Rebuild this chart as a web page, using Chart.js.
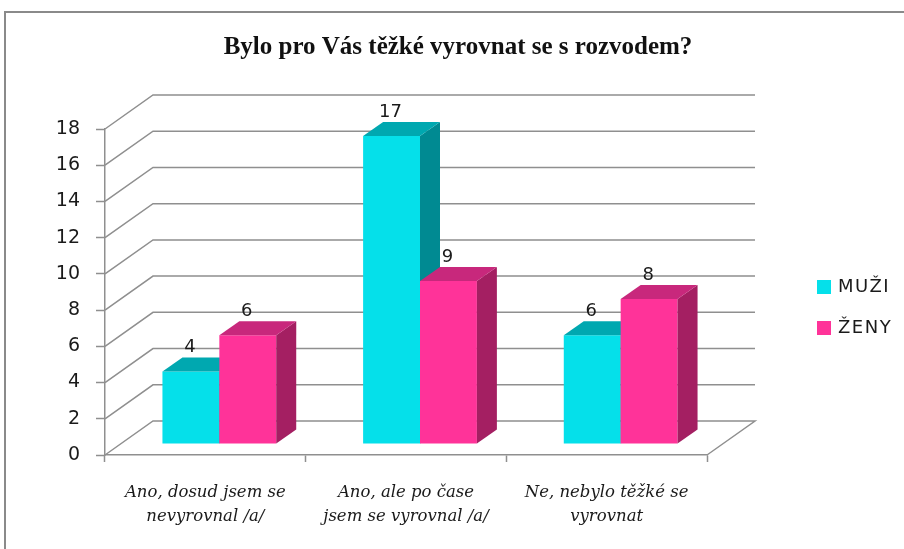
<!DOCTYPE html>
<html>
<head>
<meta charset="utf-8">
<script src="https://cdn.jsdelivr.net/npm/chart.js@4.4.0/dist/chart.umd.min.js"></script>
<style>
  body { margin: 0; background: #fff; }
</style>
</head>
<body>
<canvas id="myChart" width="904" height="549"></canvas>
<script>
const categories = [
    ['Ano, dosud jsem se', 'nevyrovnal /a/'],
    ['Ano, ale po čase', 'jsem se vyrovnal /a/'],
    ['Ne, nebylo těžké se', 'vyrovnat'],
];
const muzi = [4, 17, 6];
const zeny = [6, 9, 8];
const yTicks = [0, 2, 4, 6, 8, 10, 12, 14, 16, 18];

// depth of the floor / walls and of the bars
const wallDx = 48, wallDy = -34;
const barShiftX = 14, barShiftY = -11;
const barDx = 20, barDy = -14;

const ctx = document.getElementById('myChart').getContext('2d');

const faces = [
    { front: '#05E0EA', top: '#00A8B0', side: '#008A92' },
    { front: '#FF3399', top: '#C8287C', side: '#A41F62' },
];

const threeD = {
    id: 'threeD',
    beforeDraw(chart) {
        const c = chart.ctx;
        c.save();
        c.strokeStyle = '#8a8a8a';
        c.lineWidth = 2;
        c.beginPath();
        c.moveTo(5, 560);
        c.lineTo(5, 12);
        c.lineTo(910, 12);
        c.stroke();
        c.restore();
    },
    beforeDatasetsDraw(chart) {
        const c = chart.ctx;
        const y = chart.scales.y;
        const a = chart.chartArea;
        c.save();
        c.strokeStyle = '#8f8f8f';
        c.lineWidth = 1.5;
        yTicks.forEach(v => {
            const py = y.getPixelForValue(v);
            c.beginPath();
            c.moveTo(a.left, py);
            c.lineTo(a.left + wallDx, py + wallDy);
            c.lineTo(a.right + wallDx, py + wallDy);
            if (v === 0) c.lineTo(a.right, py);
            c.stroke();
        });
        c.restore();
    },
    // bars are drawn below, in our own order, so the 3D faces overlap properly
    beforeDatasetDraw() {
        return false;
    },
    afterDatasetsDraw(chart) {
        const c = chart.ctx;
        c.save();
        c.translate(barShiftX, barShiftY);
        chart.data.datasets.forEach((ds, i) => {
            const f = faces[i];
            chart.getDatasetMeta(i).data.forEach(bar => {
                bar.draw(c);
                const l = bar.x - bar.width / 2, r = bar.x + bar.width / 2;
                c.fillStyle = f.side;
                c.beginPath();
                c.moveTo(r, bar.y);
                c.lineTo(r + barDx, bar.y + barDy);
                c.lineTo(r + barDx, bar.base + barDy);
                c.lineTo(r, bar.base);
                c.closePath();
                c.fill();
                c.fillStyle = f.top;
                c.beginPath();
                c.moveTo(l, bar.y);
                c.lineTo(l + barDx, bar.y + barDy);
                c.lineTo(r + barDx, bar.y + barDy);
                c.lineTo(r, bar.y);
                c.closePath();
                c.fill();
            });
        });
        c.restore();

        c.save();
        c.font = '18px "DejaVu Sans"';
        c.fillStyle = '#1a1a1a';
        c.textAlign = 'center';
        c.textBaseline = 'middle';
        chart.data.datasets.forEach((ds, i) => {
            chart.getDatasetMeta(i).data.forEach((bar, j) => {
                c.fillText(ds.data[j], bar.x + barShiftX - 1, bar.y + barShiftY + barDy - 10);
            });
        });
        // legend
        c.textAlign = 'left';
        c.font = '18px "DejaVu Sans"';
        c.letterSpacing = '1.5px';
        chart.data.datasets.forEach((ds, i) => {
            const ly = 287 + i * 41;
            c.fillStyle = ds.backgroundColor;
            c.fillRect(817, ly - 7, 14, 14);
            c.fillStyle = '#1a1a1a';
            c.fillText(ds.label, 838, ly);
        });
        c.restore();
    },
};

new Chart(ctx, {
    type: 'bar',
    data: {
        labels: categories,
        datasets: [
            { label: 'MUŽI', data: muzi, backgroundColor: faces[0].front },
            { label: 'ŽENY', data: zeny, backgroundColor: faces[1].front },
        ],
    },
    options: {
        responsive: false,
        animation: false,
        layout: { padding: { top: 0, right: 0, bottom: 0, left: 12 } },
        datasets: { bar: { categoryPercentage: 0.567, barPercentage: 1 } },
        plugins: {
            legend: { display: false },
            tooltip: { enabled: false },
            title: {
                display: true,
                text: 'Bylo pro Vás těžké vyrovnat se s rozvodem?',
                color: '#111',
                font: { family: '"Liberation Serif"', size: 25, weight: 'bold' },
                padding: { top: 33, bottom: 66 },
            },
        },
        scales: {
            x: {
                afterFit: s => { s.height = 94; },
                border: { color: '#8f8f8f', width: 1.5 },
                grid: { drawOnChartArea: false, tickLength: 7, tickColor: '#8f8f8f', tickWidth: 1.5 },
                ticks: {
                    color: '#1a1a1a',
                    padding: 19,
                    font: { family: '"DejaVu Serif"', size: 16.5, style: 'italic', lineHeight: 1.45 },
                },
            },
            y: {
                min: 0,
                max: 18,
                afterFit: s => { s.width = 93; },
                border: { color: '#8f8f8f', width: 1.5 },
                grid: { drawOnChartArea: false, tickLength: 9, tickColor: '#8f8f8f', tickWidth: 1.5 },
                ticks: {
                    stepSize: 2,
                    color: '#1a1a1a',
                    padding: 16,
                    font: { family: '"DejaVu Sans"', size: 19 },
                },
            },
            // empty right axis, only reserves the space the legend sits in
            side: {
                position: 'right',
                afterFit: s => { s.width = 197; },
                border: { display: false },
                grid: { display: false },
                ticks: { display: false },
            },
        },
    },
    plugins: [threeD],
});
</script>
</body>
</html>
